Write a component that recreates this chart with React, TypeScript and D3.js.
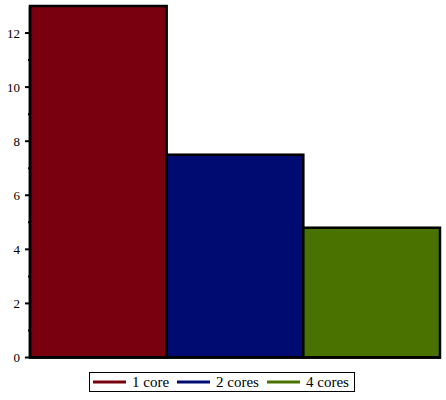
import React from "react";
import * as d3 from "d3";

const categories = ["1 core", "2 cores", "4 cores"];
const values = [13.0, 7.5, 4.8];
const colors = ["#78000f", "#000b72", "#4a7200"];
const majorTicks = [0, 2, 4, 6, 8, 10, 12];
const minorTicks = [1, 3, 5, 7, 9, 11];

export default function App() {
  const W = 446, H = 400;
  const x = d3.scaleBand<string>().domain(categories).range([30, 440]).padding(0);
  const y = d3.scaleLinear().domain([0, 13]).range([357.5, 6]);
  const fontStyle = { fontFamily: "Liberation Serif, DejaVu Serif, serif" };

  const legendX = [93, 177, 267];
  return (
    <svg width={W} height={H} style={{ position: "absolute", left: 0, top: 0 }}>
      <rect x={0} y={0} width={W} height={H} fill="#fff" />
      {categories.map((c, i) => (
        <rect
          key={c}
          x={x(c)!}
          y={y(values[i])}
          width={x.bandwidth()}
          height={y(0) - y(values[i])}
          fill={colors[i]}
          stroke="#000"
          strokeWidth={2.5}
        />
      ))}
      <line x1={30} x2={30} y1={y(13)} y2={y(0)} stroke="#000" strokeWidth={2.5} />
      <line x1={29} x2={441} y1={y(0)} y2={y(0)} stroke="#000" strokeWidth={2.5} />
      {majorTicks.map((t) => (
        <g key={t}>
          <line x1={25} x2={30} y1={y(t)} y2={y(t)} stroke="#000" strokeWidth={2} />
          <text x={20} y={y(t)} dy="0.35em" textAnchor="end" style={fontStyle} fontSize={13} fill="#000">
            {t}
          </text>
        </g>
      ))}
      {minorTicks.map((t) => (
        <line key={t} x1={28} x2={30} y1={y(t)} y2={y(t)} stroke="#000" strokeWidth={2} />
      ))}
      <rect x={89.5} y={372.5} width={265} height={19} fill="#fff" stroke="#000" strokeWidth={1} />
      {categories.map((c, i) => (
        <g key={c}>
          <line x1={legendX[i]} x2={legendX[i] + 33} y1={382} y2={382} stroke={colors[i]} strokeWidth={3} />
          <text x={legendX[i] + 39} y={382} dy="0.35em" style={fontStyle} fontSize={15} fill="#000">
            {c}
          </text>
        </g>
      ))}
    </svg>
  );
}
